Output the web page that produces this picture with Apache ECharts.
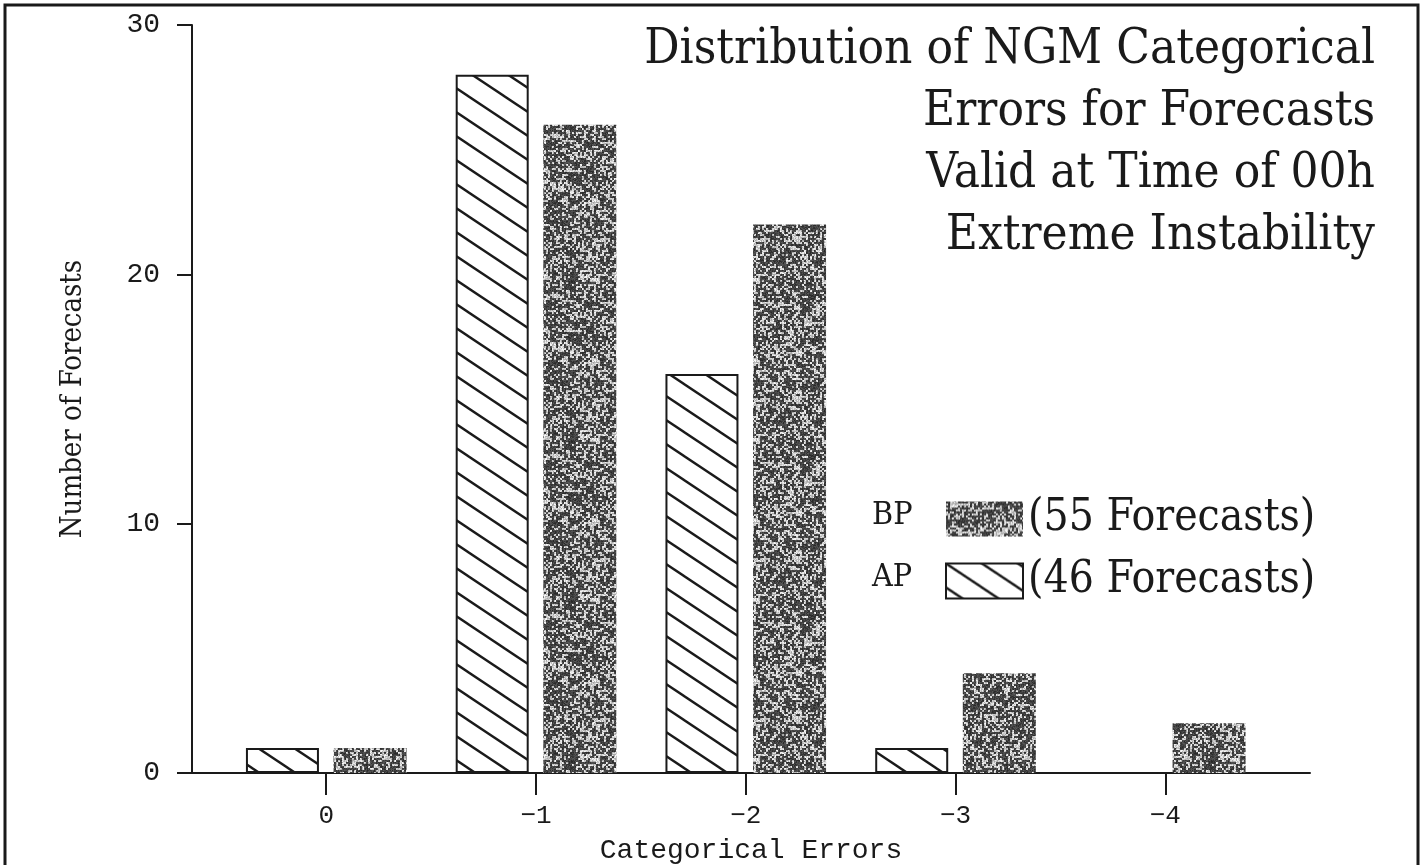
<!DOCTYPE html>
<html>
<head>
<meta charset="utf-8">
<script src="https://cdn.jsdelivr.net/npm/echarts@6/dist/echarts.min.js"></script>
<style>
	html, body { margin: 0; padding: 0; background: #fff; }
	#chart { width: 1424px; height: 865px; }
</style>
</head>
<body>
<div id="chart"></div>
<script>
	// 数据
	var categories = ['0', '\u22121', '\u22122', '\u22123', '\u22124'];
	var apValues = [1, 28, 16, 1, 0];
	var bpValues = [1, 26, 22, 4, 2];
	var seriesNames = ['AP', 'BP'];
	var titleLines = [
		'Distribution of NGM Categorical',
		'Errors for Forecasts',
		'Valid at Time of 00h',
		'Extreme Instability'
	];

	var INK = '#1a1a1a';
	var SERIF = "'DejaVu Serif Condensed', 'DejaVu Serif', serif";
	var MONO = "'Liberation Mono', 'DejaVu Sans Mono', monospace";

	function sum(arr) {
		return arr.reduce(function (a, b) { return a + b; }, 0);
	}

	// 斜线填充
	function hatchPattern() {
		var w = 36, h = 24;
		var c = document.createElement('canvas');
		c.width = w; c.height = h;
		var ctx = c.getContext('2d');
		ctx.fillStyle = '#fff';
		ctx.fillRect(0, 0, w, h);
		ctx.strokeStyle = INK;
		ctx.lineWidth = 2.4;
		for (var k = -1; k <= 1; k++) {
			ctx.beginPath();
			ctx.moveTo(-w, k * h - h);
			ctx.lineTo(2 * w, k * h + 2 * h);
			ctx.stroke();
		}
		return c;
	}

	// 点状灰色纹理 (确定性)
	function stipplePattern() {
		var n = 160;
		var c = document.createElement('canvas');
		c.width = n; c.height = n;
		var ctx = c.getContext('2d');
		var img = ctx.createImageData(n, n);
		function hash(x, y) {
			var s = Math.sin(x * 127.1 + y * 311.7) * 43758.5453;
			return s - Math.floor(s);
		}
		for (var y = 0; y < n; y++) {
			for (var x = 0; x < n; x++) {
				var fine = hash(Math.floor(x / 2), Math.floor(y / 2));
				var px = hash(x + 900, y);
				var coarse = hash(Math.floor(x / 12), Math.floor(y / 12) + 500);
				var p = 0.6 + (coarse - 0.5) * 0.3;
				var v = fine < p ? 40 + px * 50 : 160 + px * 90;
				var i = (y * n + x) * 4;
				img.data[i] = img.data[i + 1] = img.data[i + 2] = Math.round(v);
				img.data[i + 3] = 255;
			}
		}
		ctx.putImageData(img, 0, 0);
		return c;
	}

	var totals = { AP: sum(apValues), BP: sum(bpValues) };

	function toPoints(values) {
		return values.map(function (v, i) { return [i, v]; });
	}

	var chart = echarts.init(document.getElementById('chart'));

	var option = {
		backgroundColor: '#fff',
		animation: false,
		//标题
		title: {
			text: titleLines.join('\n'),
			left: 1370,
			top: 14,
			textAlign: 'right',
			textStyle: {
				color: INK,
				fontFamily: SERIF,
				fontWeight: 'normal',
				fontSize: 49,
				lineHeight: 62
			}
		},
		//网格
		grid: {
			left: 192,
			right: 114,
			top: 25,
			bottom: 92,
			outerBoundsMode: 'none',
			containLabel: false
		},
		//图例
		legend: {
			orient: 'vertical',
			left: 940,
			top: 492,
			itemWidth: 77,
			itemHeight: 35,
			itemGap: 18,
			icon: 'rect',
			data: ['BP', 'AP'],
			formatter: function (name) {
				return '(' + totals[name] + ' Forecasts)';
			},
			textStyle: {
				color: INK,
				fontFamily: SERIF,
				fontSize: 44
			}
		},
		//x轴
		xAxis: {
			type: 'value',
			min: -0.64,
			max: 4.69,
			name: 'Categorical Errors',
			nameLocation: 'middle',
			nameGap: 64,
			nameTextStyle: {
				color: INK,
				fontFamily: MONO,
				fontSize: 28
			},
			splitLine: { show: false },
			axisLine: {
				onZero: false,
				lineStyle: { color: INK, width: 2 }
			},
			axisTick: {
				customValues: [0, 1, 2, 3, 4],
				length: 22,
				lineStyle: { color: INK, width: 2 }
			},
			axisLabel: {
				customValues: [0, 1, 2, 3, 4],
				margin: 30,
				color: INK,
				fontFamily: MONO,
				fontSize: 26,
				formatter: function (v) {
					return categories[v];
				}
			}
		},
		//y轴
		yAxis: {
			type: 'value',
			min: 0,
			max: 30,
			interval: 10,
			name: 'Number of Forecasts',
			nameLocation: 'middle',
			nameGap: 104,
			nameTextStyle: {
				color: INK,
				fontFamily: SERIF,
				fontSize: 29
			},
			splitLine: { show: false },
			axisLine: {
				show: true,
				onZero: false,
				lineStyle: { color: INK, width: 2 }
			},
			axisTick: {
				length: 15,
				lineStyle: { color: INK, width: 2 }
			},
			axisLabel: {
				margin: 32,
				color: INK,
				fontFamily: MONO,
				fontSize: 28
			}
		},
		//系列列表
		series: [
			{
				name: seriesNames[0],
				type: 'bar',
				data: toPoints(apValues),
				barWidth: 73,
				barGap: '20%',
				itemStyle: {
					color: { image: hatchPattern(), repeat: 'repeat' },
					borderColor: INK,
					borderWidth: 2
				}
			},
			{
				name: seriesNames[1],
				type: 'bar',
				data: toPoints(bpValues),
				barWidth: 73,
				barGap: '20%',
				itemStyle: {
					color: { image: stipplePattern(), repeat: 'repeat' }
				}
			}
		],
		graphic: [
			{
				type: 'rect',
				silent: true,
				shape: { x: 5, y: 5, width: 1413, height: 900 },
				style: { fill: null, stroke: INK, lineWidth: 3 }
			},
			{
				type: 'text',
				left: 872,
				top: 500,
				style: {
					text: 'BP',
					fill: INK,
					font: '32px ' + SERIF
				}
			},
			{
				type: 'text',
				left: 872,
				top: 562,
				style: {
					text: 'AP',
					fill: INK,
					font: '32px ' + SERIF
				}
			}
		]
	};

	chart.setOption(option);
</script>
</body>
</html>
